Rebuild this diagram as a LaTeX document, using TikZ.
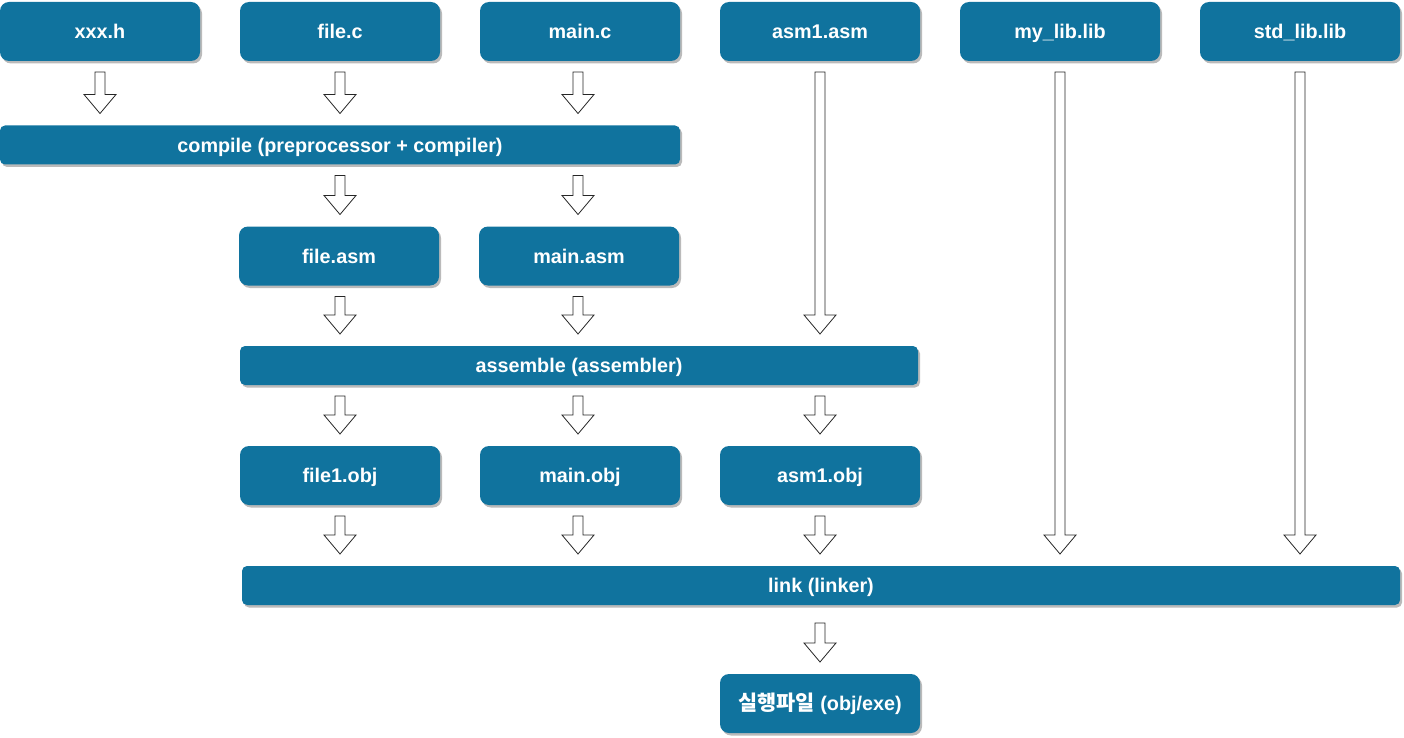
\documentclass[tikz,border=0pt]{standalone}
\usepackage{fontspec}
\setmainfont{Liberation Sans}
\newfontfamily\kr{Noto Sans CJK KR}[Scale=1.05]
\usetikzlibrary{calc,shadows}
\definecolor{dblue}{HTML}{10739E}
\begin{document}
\begin{tikzpicture}[x=1pt,y=-1pt,
  base/.style={rectangle, fill=dblue, text=white, font=\fontsize{19.8}{22}\selectfont\bfseries, inner sep=0pt, outer sep=0pt,
    text height=14.5pt, text depth=0pt,
    drop shadow={shadow xshift=2pt, shadow yshift=-2.5pt, fill=black!45, opacity=0.6}},
  box/.style={base, rounded corners=9pt, minimum width=200pt, minimum height=59pt},
  bar/.style={base, rounded corners=5pt, minimum height=39pt},
  blk/.style={draw=black!85, fill=white, line width=0.8pt, line join=miter,
    to path={let \p1=(\tikztostart), \p2=(\tikztotarget) in
      (\x1-5pt,\y1-11pt) -- (\x1-5pt,\y2+31pt) -- (\x1-16pt,\y2+31pt) -- (\x1,\y2+12pt)
      -- (\x1+16pt,\y2+31pt) -- (\x1+5pt,\y2+31pt) -- (\x1+5pt,\y1-11pt) -- cycle}}]
\useasboundingbox (0,0) rectangle (1404,738);
% top row
\node[box] (xh) at (100,31.5) {xxx.h};
\node[box] (filec) at (340,31.5) {file.c};
\node[box] (mainc) at (580,31.5) {main.c};
\node[box] (asm) at (820,31.5) {asm1.asm};
\node[box] (mylib) at (1060,31.5) {my\_lib.lib};
\node[box] (stdlib) at (1300,31.5) {std\_lib.lib};
% compile bar
\node[bar, minimum width=680pt] (compile) at (340,145) {compile (preprocessor + compiler)};
% asm row
\node[box] (fileasm) at (339,256) {file.asm};
\node[box] (mainasm) at (579,256) {main.asm};
% assemble bar
\node[bar, minimum width=678pt] (assemble) at (579,365.5) {assemble (assembler)};
% obj row
\node[box] (fileobj) at (340,475.5) {file1.obj};
\node[box] (mainobj) at (580,475.5) {main.obj};
\node[box] (asmobj) at (820,475.5) {asm1.obj};
% link bar
\node[bar, minimum width=1158pt] (link) at (821,585.5) {link (linker)};
% result
\node[box] (exe) at (820,703.5) {{\kr 실행파일} (obj/exe)};
% arrows
\path[blk] (xh.south) to (xh.south |- compile.north);
\path[blk] (filec.south) to (filec.south |- compile.north);
\path[blk] ([xshift=-2pt]mainc.south) to ([xshift=-2pt]mainc.south |- compile.north);
\path[blk] (asm.south) to (asm.south |- assemble.north);
\path[blk] (mylib.south) to (mylib.south |- link.north);
\path[blk] (stdlib.south) to (stdlib.south |- link.north);
\path[blk] ([xshift=1pt]fileasm.north |- compile.south) to (fileasm.north);
\path[blk] ([xshift=-1pt]mainasm.north |- compile.south) to (mainasm.north);
\path[blk] ([xshift=1pt]fileasm.south) to ([xshift=1pt]fileasm.south |- assemble.north);
\path[blk] ([xshift=-1pt]mainasm.south) to ([xshift=-1pt]mainasm.south |- assemble.north);
\path[blk] (fileobj.north |- assemble.south) to (fileobj.north);
\path[blk] ([xshift=-2pt]mainobj.north |- assemble.south) to ([xshift=-2pt]mainobj.north);
\path[blk] (asmobj.north |- assemble.south) to (asmobj.north);
\path[blk] (fileobj.south) to (fileobj.south |- link.north);
\path[blk] ([xshift=-2pt]mainobj.south) to ([xshift=-2pt]mainobj.south |- link.north);
\path[blk] (asmobj.south) to (asmobj.south |- link.north);
\path[blk] ([yshift=-7pt]asmobj.south |- link.south) to (exe.north);
\end{tikzpicture}
\end{document}
